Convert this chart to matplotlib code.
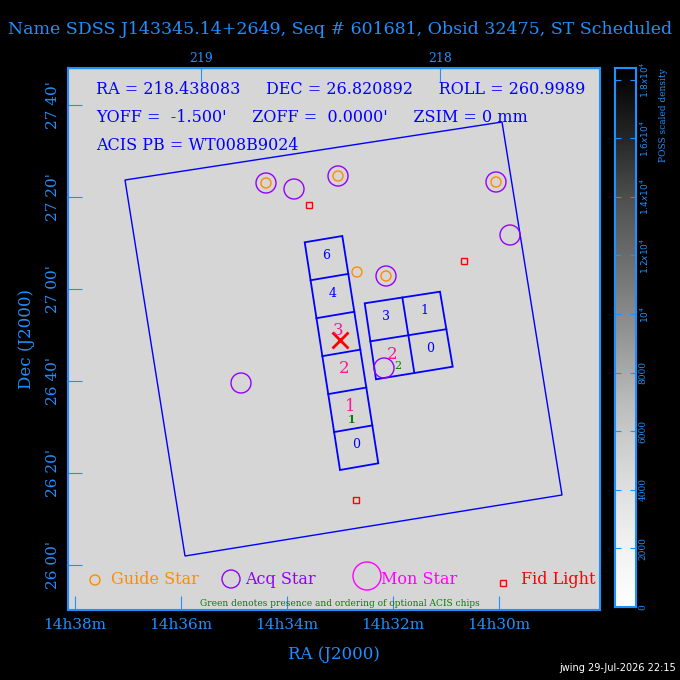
import numpy as np
import matplotlib
matplotlib.use('Agg')
import matplotlib.pyplot as plt
from matplotlib.patches import Polygon, Circle, Rectangle

BLUE = '#1e90ff'
FONT = 'DejaVu Serif'

title = "Name SDSS J143345.14+2649, Seq # 601681, Obsid 32475, ST Scheduled"
info_lines = ["RA = 218.438083     DEC = 26.820892     ROLL = 260.9989",
              "YOFF =  -1.500'     ZOFF =  0.0000'     ZSIM = 0 mm",
              "ACIS PB = WT008B9024"]

# image-pixel geometry of the field (x right, y down)
field = [(125, 180), (502, 122), (562, 495), (185, 556)]
strip = [(304.7, 242.3), (342.3, 236.0), (378.3, 463.3), (340.0, 470.0)]
strip_labels = ['6', '4', '3', '2', '1', '0']
strip_colors = ['blue', 'blue', '#ff1493', '#ff1493', '#ff1493', 'blue']
block = [(364.7, 303.3), (440.0, 291.7), (452.7, 366.7), (376.0, 379.3)]
block_labels = [('3', 'blue'), ('1', 'blue'), ('2', '#ff1493'), ('0', 'blue')]

guide_x = [266, 338, 386, 496, 357]
guide_y = [183, 176, 276, 182, 272]
acq_x = [266, 338, 386, 496, 294, 510, 241, 384]
acq_y = [183, 176, 276, 182, 189, 235, 383, 368]
fid_x = [309, 464, 356]
fid_y = [205, 261, 500]

ra_ticks = [75, 181, 287, 393, 499]
ra_labels = ['14h38m', '14h36m', '14h34m', '14h32m', '14h30m']
top_ticks = [201, 440]
top_labels = ['219', '218']
dec_ticks = [105, 197, 289, 381, 473, 565]
dec_labels = ["27 40'", "27 20'", "27 00'", "26 40'", "26 20'", "26 00'"]
cb_vals = [0, 2000, 4000, 6000, 8000, 10000, 12000, 14000, 16000, 18000]
cb_labels = ['0', '2000', '4000', '6000', '8000', r'$10^4$', r'$1.2x10^4$',
             r'$1.4x10^4$', r'$1.6x10^4$', r'$1.8x10^4$']

fig = plt.figure(figsize=(6.8, 6.8), dpi=100, facecolor='black')
ax = fig.add_axes([68/680, 1-610/680, 532/680, 542/680])
ax.set_xlim(68, 600)
ax.set_ylim(610, 68)
ax.set_facecolor('#d6d6d6')
for s in ax.spines.values():
    s.set_color(BLUE); s.set_linewidth(1.5)

def quad(p, u, v):
    # bilinear point inside quadrilateral p (tl, tr, br, bl)
    tl, tr, br, bl = [np.array(q) for q in p]
    top = tl + (tr - tl) * u
    bot = bl + (br - bl) * u
    return top + (bot - top) * v

ax.add_patch(Polygon(field, closed=True, fill=False, ec='blue', lw=1))
ax.add_patch(Polygon(strip, closed=True, fill=False, ec='blue', lw=1.3))
n = len(strip_labels)
for i in range(1, n):
    a = quad(strip, 0, i/n); b = quad(strip, 1, i/n)
    ax.plot([a[0], b[0]], [a[1], b[1]], color='blue', lw=1.3)
for i, (lab, c) in enumerate(zip(strip_labels, strip_colors)):
    p = quad(strip, 0.5, (i + 0.5)/n)
    ax.text(p[0], p[1] - 3, lab, color=c, ha='center', va='center',
            fontsize=12 if c != 'blue' else 9, family=FONT)
ax.text(*quad(strip, 0.5, 4.75/6), '1', color='green', ha='center', va='center', fontsize=8, family=FONT, weight='bold')
ax.add_patch(Polygon(block, closed=True, fill=False, ec='blue', lw=1.3))
for u, v in [((0.5, 0), (0.5, 1)), ((0, 0.5), (1, 0.5))]:
    a = quad(block, *u); b = quad(block, *v)
    ax.plot([a[0], b[0]], [a[1], b[1]], color='blue', lw=1.3)
for (lab, c), (u, v) in zip(block_labels, [(0.25, 0.25), (0.75, 0.25), (0.25, 0.75), (0.75, 0.75)]):
    p = quad(block, u, v)
    ax.text(p[0], p[1] - 3, lab, color=c, ha='center', va='center',
            fontsize=12 if c != 'blue' else 9, family=FONT)
ax.text(398, 366, '2', color='green', fontsize=8, ha='center', va='center', family=FONT)
ax.plot([340], [340], marker='x', color='red', ms=12, mew=2)

for x, y in zip(guide_x, guide_y):
    ax.add_patch(Circle((x, y), 5, fill=False, ec='#ff8c00', lw=1))
for x, y in zip(acq_x, acq_y):
    ax.add_patch(Circle((x, y), 10, fill=False, ec='#9400ff', lw=1))
for x, y in zip(fid_x, fid_y):
    ax.add_patch(Rectangle((x-3, y-3), 6, 6, fill=False, ec='red', lw=1))

for i, line in enumerate(info_lines):
    ax.text(96, 90 + 27.5*i, line, color='blue', fontsize=11.5, family=FONT, va='center')

# legend
ax.add_patch(Circle((95, 580), 5, fill=False, ec='#ff8c00', lw=1))
ax.text(111, 579, 'Guide Star', color='#ff8c00', fontsize=11.5, family=FONT, va='center')
ax.add_patch(Circle((231, 579), 9, fill=False, ec='#9400ff', lw=1))
ax.text(245, 579, 'Acq Star', color='#9400ff', fontsize=11.5, family=FONT, va='center')
ax.add_patch(Circle((367, 576), 14, fill=False, ec='magenta', lw=1))
ax.text(381, 579, 'Mon Star', color='magenta', fontsize=11.5, family=FONT, va='center')
ax.add_patch(Rectangle((500, 580), 6, 6, fill=False, ec='red', lw=1))
ax.text(521, 579, 'Fid Light', color='red', fontsize=11.5, family=FONT, va='center')
ax.text(340, 603, 'Green denotes presence and ordering of optional ACIS chips',
        color='green', fontsize=6.5, family=FONT, ha='center', va='center')

ax.set_xticks(ra_ticks)
ax.set_xticklabels(ra_labels, color=BLUE, fontsize=11, family=FONT)
ax.set_yticks(dec_ticks)
ax.set_yticklabels(dec_labels, color=BLUE, fontsize=11, family=FONT, rotation=90, va='center')
ax.tick_params(colors=BLUE, direction='in', length=10, top=False, right=False, pad=6)
sec = ax.secondary_xaxis('top')
sec.set_xticks(top_ticks)
sec.set_xticklabels(top_labels, color=BLUE, fontsize=9, family=FONT)
sec.tick_params(colors=BLUE, direction='in', length=10, pad=2)
ax.set_xlabel('RA (J2000)', color=BLUE, fontsize=12, family=FONT, labelpad=10)
ax.set_ylabel('Dec (J2000)', color=BLUE, fontsize=12, family=FONT, labelpad=8)

fig.text(340/680, 1-30/680, title, color=BLUE, fontsize=12.5, family=FONT, ha='center', va='center')
fig.text(676/680, 1-668/680, 'jwing 29-Jul-2026 22:15', color='white', fontsize=7, ha='right', va='center')

# colorbar
cax = fig.add_axes([615/680, 1-607/680, 21/680, 539/680])
grad = np.linspace(0, 18400, 256).reshape(-1, 1)
cax.imshow(grad, cmap='Greys', aspect='auto', origin='lower', extent=[0, 1, 0, 18400], vmin=0, vmax=18400)
for s in cax.spines.values():
    s.set_color(BLUE); s.set_linewidth(1.5)
cax.set_xticks([])
cax.yaxis.tick_right()
cax.set_yticks(cb_vals)
cax.set_yticklabels(cb_labels, color=BLUE, fontsize=6.5, family=FONT, rotation=90, va='center')
cax.tick_params(colors=BLUE, direction='in', length=4, pad=2, left=True)
fig.text(663/680, 1-115/680, 'POSS scaled density', color=BLUE, fontsize=6.5, family=FONT,
         rotation=90, ha='center', va='center')

fig.savefig('out.png', dpi=100, facecolor='black')
